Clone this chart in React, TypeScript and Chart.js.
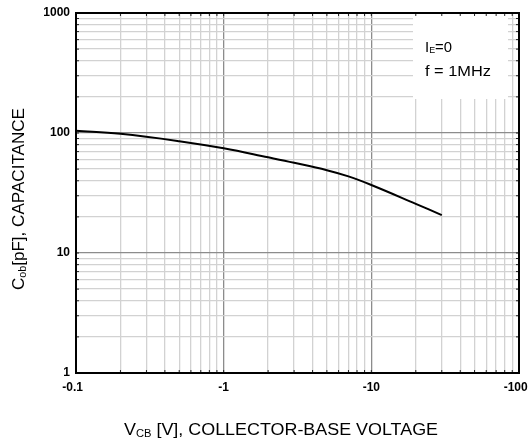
import React, { useEffect, useRef } from "react";
import { Chart, registerables } from "chart.js";

Chart.register(...registerables);

const voltage = [0.1, 0.2, 0.5, 1, 2, 3, 5, 7, 10, 20, 30];
const capacitance = [104.5, 98.5, 85.5, 74.5, 62.7, 56.5, 49, 43.5, 36.9, 25.7, 20.7];
const xDecades = [0.1, 1, 10, 100];
const yDecades = [1, 10, 100, 1000];
const xTickLabels = ["-0.1  ", "-1", "-10", "-100  "];
const yTickLabels = ["1", "10", "100", "1000"];

function minorTicks(min: number, max: number): number[] {
  const out: number[] = [];
  for (let d = min; d < max * 0.999; d *= 10) {
    for (let m = 1; m < 10; m++) out.push(+(d * m).toPrecision(6));
  }
  out.push(max);
  return out;
}

const isMajor = (v: number, decs: number[]) => decs.some((d) => Math.abs(v - d) / d < 1e-6);

type Part = { t: string; size: number; dy: number };

function drawParts(ctx: CanvasRenderingContext2D, parts: Part[], font: string, targetWidth?: number) {
  let total = 0;
  parts.forEach((p) => {
    ctx.font = `${p.size}px ${font}`;
    total += ctx.measureText(p.t).width;
  });
  const sx = targetWidth ? targetWidth / total : 1;
  ctx.save();
  ctx.scale(sx, 1);
  let x = 0;
  parts.forEach((p) => {
    ctx.font = `${p.size}px ${font}`;
    ctx.fillText(p.t, x, p.dy);
    x += ctx.measureText(p.t).width;
  });
  ctx.restore();
}

export default function App() {
  const ref = useRef<HTMLCanvasElement | null>(null);
  useEffect(() => {
    document.body.style.margin = "0";
    if (!ref.current) return;
    const font = "Arial, 'Liberation Sans', sans-serif";
    const overlay = {
      id: "overlay",
      beforeDatasetsDraw(chart: any) {
        const ctx = chart.ctx;
        ctx.save();
        ctx.fillStyle = "#fff";
        ctx.fillRect(413, chart.chartArea.top + 1, 95, 85);
        ctx.restore();
      },
      afterDatasetsDraw(chart: any) {
        const ctx = chart.ctx;
        const a = chart.chartArea;
        const xs = chart.scales.x;
        const ys = chart.scales.y;
        ctx.save();
        ctx.strokeStyle = "#222";
        ctx.lineWidth = 1;
        ys.ticks.forEach((t: any) => {
          const y = ys.getPixelForValue(t.value);
          ctx.beginPath();
          ctx.moveTo(a.left, y);
          ctx.lineTo(a.left + 3, y);
          ctx.moveTo(a.right, y);
          ctx.lineTo(a.right - 3, y);
          ctx.stroke();
        });
        xs.ticks.forEach((t: any) => {
          const x = xs.getPixelForValue(t.value);
          ctx.beginPath();
          ctx.moveTo(x, a.top);
          ctx.lineTo(x, a.top + 3);
          ctx.moveTo(x, a.bottom);
          ctx.lineTo(x, a.bottom - 3);
          ctx.stroke();
        });
        ctx.strokeStyle = "#000";
        ctx.lineWidth = 2;
        ctx.strokeRect(a.left, a.top, a.right - a.left, a.bottom - a.top);

        ctx.fillStyle = "#000";
        ctx.textBaseline = "middle";
        ctx.textAlign = "left";

        ctx.save();
        ctx.translate(425, 48);
        drawParts(ctx, [
          { t: "I", size: 15, dy: 0 },
          { t: "E", size: 9, dy: 3 },
          { t: "=0", size: 15, dy: 0 },
        ], font, 27);
        ctx.restore();
        ctx.save();
        ctx.translate(425, 72);
        drawParts(ctx, [{ t: "f = 1MHz", size: 15, dy: 0 }], font, 66);
        ctx.restore();

        ctx.save();
        ctx.translate(124, 431);
        drawParts(ctx, [
          { t: "V", size: 16, dy: 0 },
          { t: "CB", size: 10, dy: 3 },
          { t: " [V], COLLECTOR-BASE VOLTAGE", size: 16, dy: 0 },
        ], font, 314);
        ctx.restore();

        ctx.save();
        ctx.translate(20, 290);
        ctx.rotate(-Math.PI / 2);
        drawParts(ctx, [
          { t: "C", size: 16, dy: 0 },
          { t: "ob", size: 10, dy: 3 },
          { t: "[pF], CAPACITANCE", size: 16, dy: 0 },
        ], font, 182);
        ctx.restore();
        ctx.restore();
      },
    };

    const chart = new Chart(ref.current, {
      type: "line",
      data: {
        datasets: [
          {
            data: voltage.map((v, i) => ({ x: v, y: capacitance[i] })),
            borderColor: "#000",
            borderWidth: 2,
            pointRadius: 0,
            fill: false,
            tension: 0.4,
          },
        ],
      },
      options: {
        animation: false,
        responsive: true,
        maintainAspectRatio: false,
        layout: { padding: { top: 13, right: 12, left: 0, bottom: 0 } },
        plugins: { legend: { display: false }, tooltip: { enabled: false } },
        scales: {
          x: {
            type: "logarithmic",
            min: 0.1,
            max: 100,
            afterBuildTicks: (s: any) => {
              s.ticks = minorTicks(0.1, 100).map((v) => ({ value: v }));
            },
            afterFit: (s: any) => {
              s.height = 69;
              s.paddingLeft = 0;
              s.paddingRight = 0;
            },
            border: { display: false },
            grid: {
              drawTicks: false,
              color: (c: any) => (isMajor(c.tick?.value, xDecades) ? "#8c8c8c" : "#d2d2d2"),
              lineWidth: 1.3,
            },
            ticks: {
              autoSkip: false,
              maxRotation: 0,
              padding: 7,
              color: "#000",
              font: { family: font, size: 12, weight: "bold" },
              callback: (v: any) => {
                const i = xDecades.findIndex((d) => Math.abs(v - d) / d < 1e-6);
                return i >= 0 ? xTickLabels[i] : "";
              },
            },
          },
          y: {
            type: "logarithmic",
            min: 1,
            max: 1000,
            afterBuildTicks: (s: any) => {
              s.ticks = minorTicks(1, 1000).map((v) => ({ value: v }));
            },
            afterFit: (s: any) => {
              s.width = 76;
              s.paddingTop = 0;
              s.paddingBottom = 0;
            },
            border: { display: false },
            grid: {
              drawTicks: false,
              color: (c: any) => (isMajor(c.tick?.value, yDecades) ? "#8c8c8c" : "#d2d2d2"),
              lineWidth: 1.3,
            },
            ticks: {
              autoSkip: false,
              padding: 6,
              color: "#000",
              font: { family: font, size: 12, weight: "bold" },
              callback: (v: any) => {
                const i = yDecades.findIndex((d) => Math.abs(v - d) / d < 1e-6);
                return i >= 0 ? yTickLabels[i] : "";
              },
            },
          },
        },
      },
      plugins: [overlay],
    } as any);
    return () => chart.destroy();
  }, []);
  return (
    <div style={{ position: "relative", width: 531, height: 442 }}>
      <canvas ref={ref} />
    </div>
  );
}
